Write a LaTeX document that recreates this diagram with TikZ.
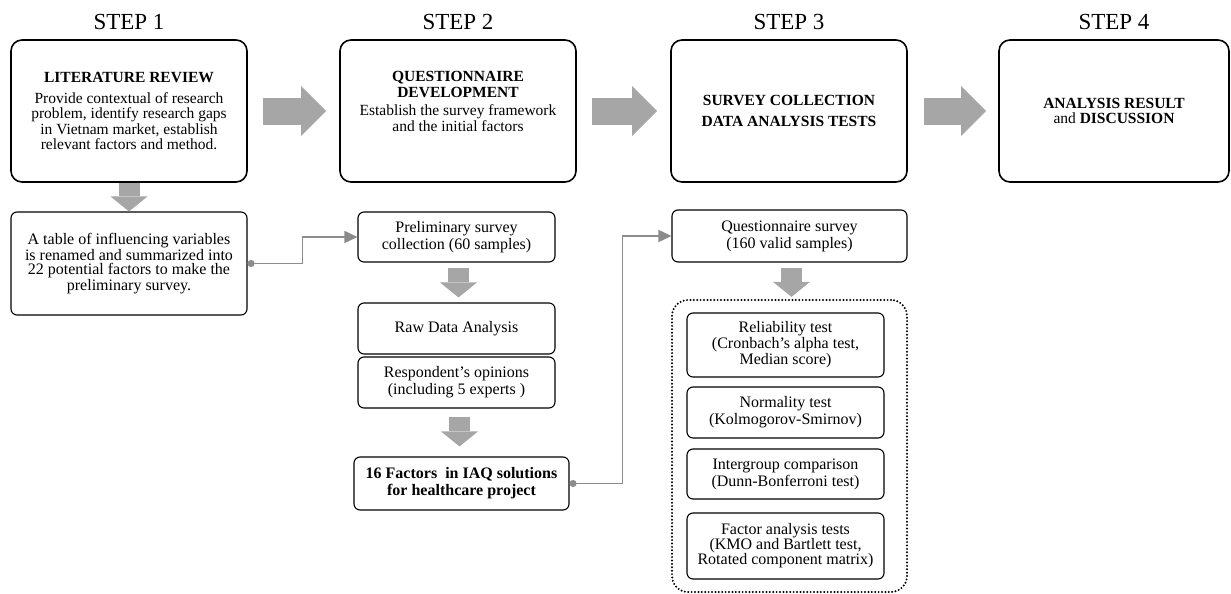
\documentclass[tikz,border=0pt]{standalone}
\usepackage{fontspec}
\setmainfont{Liberation Serif}
\usetikzlibrary{arrows.meta,calc}
\definecolor{arrowgray}{RGB}{166,166,166}
\definecolor{linegray}{RGB}{140,140,140}
\tikzset{
  stepbox/.style={draw, line width=1.6pt, rounded corners=11pt, minimum width=236pt,
    minimum height=142pt, align=center, inner sep=0pt, font=\fontsize{15.5}{15.5}\selectfont},
  smallbox/.style={draw, line width=1.1pt, rounded corners=6pt, align=center,
    inner sep=0pt, font=\fontsize{16}{17}\selectfont},
  steplabel/.style={font=\fontsize{23}{26}\selectfont},
  blockright/.style={draw=arrowgray, line width=27pt,
    -{Triangle[length=25pt,width=50pt,line width=0pt]}},
  blockdown/.style={draw=arrowgray, line width=21pt,
    -{Triangle[length=15pt,width=37pt,line width=0pt]}},
  link/.style={draw=linegray, line width=1.6pt,
    {Circle[length=7pt]}-{Triangle[length=13pt,width=12pt]}},
  testgroup/.style={draw, line width=2.2pt, line cap=round,
    dash pattern=on 0pt off 3.4pt, rounded corners=16pt},
}
\begin{document}
\begin{tikzpicture}[x=1pt,y=-1pt]
\useasboundingbox (0,0) rectangle (1231,594);

% step headings
\node[steplabel] (l1) at (129,22) {STEP 1};
\node[steplabel] (l2) at (458,22) {STEP 2};
\node[steplabel] (l3) at (789,22) {STEP 3};
\node[steplabel] (l4) at (1114,22) {STEP 4};

% main steps
\node[stepbox] (s1) at (129,111) {\textbf{LITERATURE REVIEW}\\[5pt]
  Provide contextual of research\\ problem, identify research gaps\\
  in Vietnam market, establish\\ relevant factors and method.};
\node[stepbox] (s2) at (458,111) {\textbf{QUESTIONNAIRE}\\ \textbf{DEVELOPMENT}\\[3pt]
  Establish the survey framework\\ and the initial factors\\[4pt]\mbox{}};
\node[stepbox] (s3) at (789,111) {\textbf{SURVEY COLLECTION}\\[6pt]
  \textbf{DATA ANALYSIS TESTS}};
\node[stepbox, minimum width=230pt] (s4) at (1114,111)
  {\textbf{ANALYSIS RESULT}\\ and \textbf{DISCUSSION}};

\draw[blockright] ($(s1.east)+(15,0)$) -- ($(s2.west)+(-13,0)$);
\draw[blockright] ($(s2.east)+(15,0)$) -- ($(s3.west)+(-13,0)$);
\draw[blockright] ($(s3.east)+(16,0)$) -- ($(s4.west)+(-12,0)$);

% step 1 detail
\node[smallbox, minimum width=236pt, minimum height=103pt,
  font=\fontsize{16}{14.5}\selectfont] (t1) at (129,263.5)
  {A table of influencing variables\\ is renamed and summarized into\\
   22 potential factors to make the\\ preliminary survey.};
\draw[blockdown] (s1.south) -- (t1.north);

% step 2 detail
\node[smallbox, minimum width=197pt, minimum height=50pt] (p1) at (456.5,237)
  {Preliminary survey\\ collection (60 samples)};
\node[smallbox, minimum width=197pt, minimum height=51pt] (r1) at (456.5,328.5)
  {Raw Data Analysis};
\node[smallbox, minimum width=197pt, minimum height=51pt] (o1) at (456.5,382.5)
  {Respondent’s opinions\\ (including 5 experts )};
\node[smallbox, minimum width=215pt, minimum height=53pt] (f1) at (461.5,483.5)
  {\textbf{16 Factors\ \ in IAQ solutions}\\ \textbf{for healthcare project}};
\draw[blockdown] ($(p1.south)+(2,5)$) -- ($(r1.north)+(2,-5)$);
\draw[blockdown] ($(o1.south)+(3,8)$) -- ($(o1.south |- f1.north)+(3,-10)$);
\draw[link] (t1.east) -- ++(55,0) |- (p1.west);

% step 3 detail
\node[smallbox, minimum width=235pt, minimum height=52pt] (q1) at (789.5,236)
  {Questionnaire survey\\ (160 valid samples)};
\node[testgroup, minimum width=235pt, minimum height=292pt] (grp) at (789.5,446) {};
\node[smallbox, minimum width=197pt, minimum height=64pt,
  font=\fontsize{16}{16}\selectfont] (rt) at (785.5,345)
  {Reliability test\\ (Cronbach’s alpha test,\\ Median score)};
\node[smallbox, minimum width=197pt, minimum height=51pt] (nt) at (785.5,412.5)
  {Normality test\\ (Kolmogorov-Smirnov)};
\node[smallbox, minimum width=197pt, minimum height=50pt] (it) at (785.5,474)
  {Intergroup comparison\\ (Dunn-Bonferroni test)};
\node[smallbox, minimum width=197pt, minimum height=66pt,
  font=\fontsize{16}{15}\selectfont] (ft) at (785.5,546)
  {Factor analysis tests\\ (KMO and Bartlett test,\\ Rotated component matrix)};
\draw[blockdown] ($(q1.south)+(2,5)$) -- ($(grp.north)+(2,-2)$);
\draw[link] (f1.east) -- ++(53,0) |- (q1.west);
\end{tikzpicture}
\end{document}
